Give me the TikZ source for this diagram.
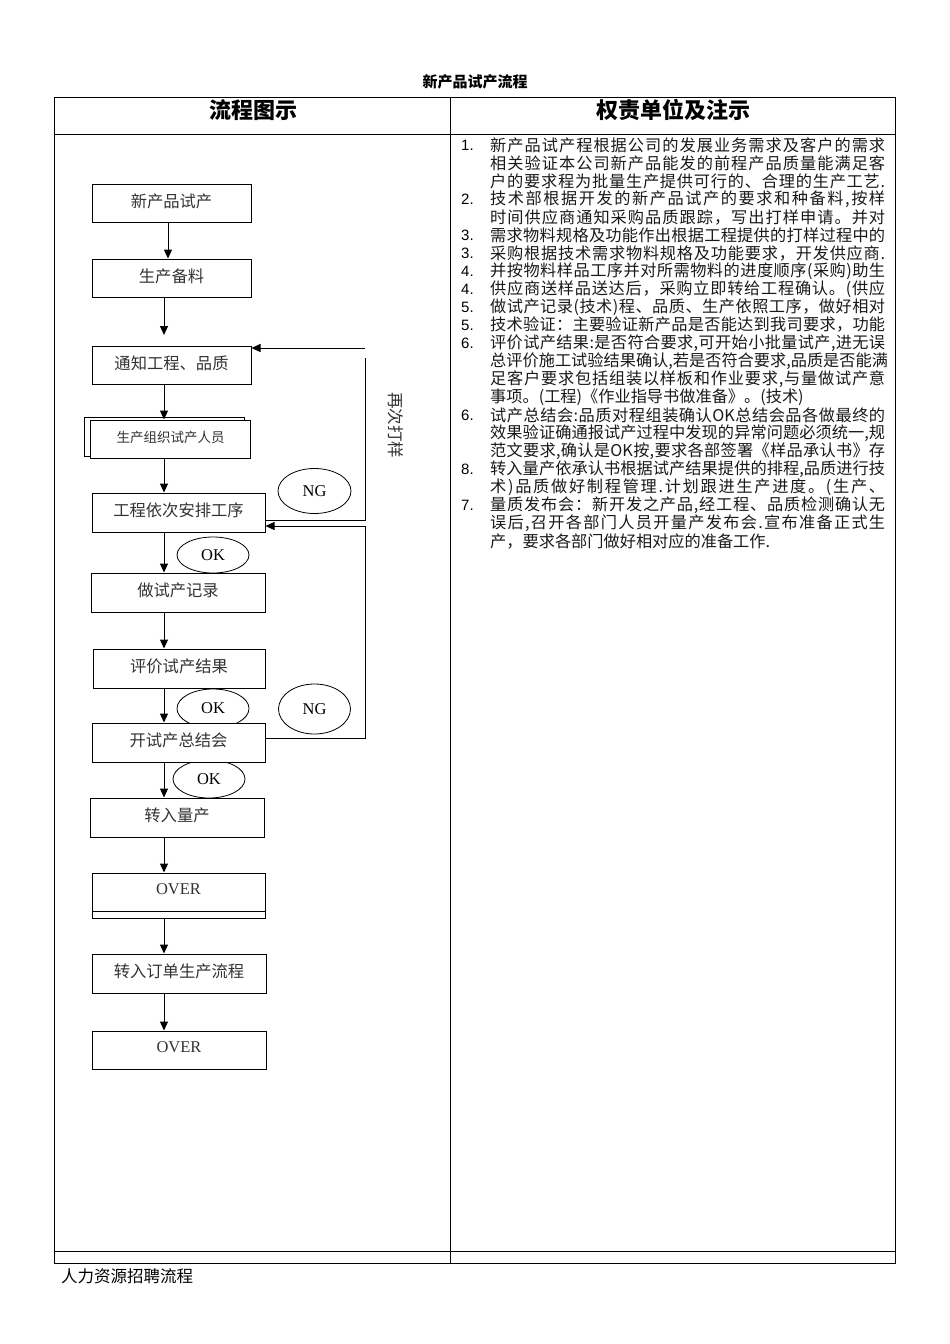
\documentclass[tikz,border=0pt]{standalone}
\usepackage{fontspec}
\setmainfont{Liberation Serif}
\newfontfamily\cjk{Noto Sans CJK SC}
\newfontfamily\lat{Liberation Serif}
\newfontfamily\numf{Liberation Sans}
\usetikzlibrary{arrows.meta,calc,shapes.geometric}
\ExplSyntaxOn
\NewDocumentCommand\jline{m}{\hbox to 395pt{\tl_map_inline:nn{#1}{##1\hfil}\unskip}}
\ExplSyntaxOff
\newcommand\jl[2]{\node[rtext] at (490,#1) {\jline{#2}};}
\newcommand\nl[2]{\node[rtext] at (490,#1) {#2};}
\newcommand\numl[2]{\node[numtext] at (461,#1) {#2};}
\begin{document}
\begin{tikzpicture}[x=1pt,y=-1pt,
  box/.style={draw,line width=1pt,fill=white,inner sep=0pt,text depth=5pt,font=\cjk\fontsize{16.3}{18}\selectfont,text=black!80},
  ell/.style={draw,ellipse,line width=0.8pt,fill=white,inner sep=0pt,font=\lat\fontsize{16.5}{18}\selectfont},
  arr/.style={line width=1pt,-{Triangle[length=9pt,width=8pt]}},
  lp/.style={line width=0.8pt},
  rtext/.style={anchor=west,inner sep=0pt,font=\cjk\fontsize{16.2}{18}\selectfont,text=black!90},
  numtext/.style={anchor=west,inner sep=0pt,font=\numf\fontsize{15}{18}\selectfont},
  tbl/.style={line width=0.9pt}]
\useasboundingbox (0,0) rectangle (950,1344);
% title and table
\node[font=\cjk\bfseries\fontsize{15}{18}\selectfont] (title) at (475,82) {新产品试产流程};
\draw[tbl] (54,97) rectangle (895,1263);
\draw[tbl] (54,134) -- (895,134);
\draw[tbl] (54,1251) -- (895,1251);
\draw[tbl] (450,97) -- (450,1263);
\node[font=\cjk\bfseries\fontsize{22}{24}\selectfont] (h1) at (253,110) {流程图示};
\node[font=\cjk\bfseries\fontsize{22}{24}\selectfont] (h2) at (673,110) {权责单位及注示};
\node[anchor=west,inner sep=0pt,font=\cjk\fontsize{16.5}{18}\selectfont] (foot) at (61,1276) {人力资源招聘流程};
% ellipses
\node[ell,minimum width=73,minimum height=45] (ng1) at (314.5,491) {NG};
\node[ell,minimum width=72,minimum height=36] (ok1) at (213,555) {OK};
\node[ell,minimum width=72,minimum height=39] (ok2) at (213,708.5) {OK};
\node[ell,minimum width=72,minimum height=50] (ng2) at (314.5,709) {NG};
\node[ell,minimum width=72,minimum height=38] (ok3) at (209,779) {OK};
% boxes
\node[box,minimum width=159,minimum height=38] (b1) at (171.5,203) {新产品试产};
\node[box,minimum width=159,minimum height=38] (b2) at (171.5,278) {生产备料};
\node[box,minimum width=159,minimum height=38] (b3) at (171.5,365) {通知工程、品质};
\node[box,minimum width=160,minimum height=39] (b4b) at (164,436.5) {};
\node[box,minimum width=160,minimum height=38,font=\cjk\fontsize{13.5}{16}\selectfont] (b4) at (170.5,439) {生产组织试产人员};
\node[box,minimum width=173,minimum height=39] (b5) at (178.5,512.5) {工程依次安排工序};
\node[box,minimum width=174,minimum height=39] (b6) at (178,592.5) {做试产记录};
\node[box,minimum width=172,minimum height=39] (b7) at (179,668.5) {评价试产结果};
\node[box,minimum width=173,minimum height=39] (b8) at (178.5,742.5) {开试产总结会};
\node[box,minimum width=174,minimum height=39] (b9) at (177,817.5) {转入量产};
\node[box,minimum width=173,minimum height=45] (b10b) at (178.5,895.5) {};
\node[box,minimum width=173,minimum height=38,font=\lat\fontsize{16.5}{18}\selectfont] (b10) at (178.5,892) {OVER};
\node[box,minimum width=174,minimum height=39] (b11) at (179,973.5) {转入订单生产流程};
\node[box,minimum width=174,minimum height=38,font=\lat\fontsize{16.5}{18}\selectfont] (b12) at (179,1050) {OVER};
% arrows
\coordinate (ax) at (164,0);
\coordinate (ax1) at (168,0);
\coordinate (gap) at (164,335);
\draw[arr] (b1.south -| ax1) -- (b2.north -| ax1);
\draw[arr] (b2.south -| ax) -- (gap);
\draw[arr] (b3.south -| ax) -- (b4.north -| ax);
\draw[arr] (b4.south -| ax) -- (b5.north -| ax);
\draw[arr] (b5.south -| ax) -- (b6.north -| ax);
\draw[arr] (b6.south -| ax) -- (b7.north -| ax);
\draw[arr] (b7.south -| ax) -- (b8.north -| ax);
\draw[arr] (b8.south -| ax) -- (b9.north -| ax);
\draw[arr] (b9.south -| ax) -- (b10.north -| ax);
\draw[arr] (b10b.south -| ax) -- (b11.north -| ax);
\draw[arr] (b11.south -| ax) -- (b12.north -| ax);
% loops
\coordinate (rtop) at (365,358);
\coordinate (rtop2) at (365,348);
\coordinate (rlow) at (365,526);
\draw[lp] ($(b5.east)+(0,7.5)$) -| (rtop);
\draw[lp,-{Triangle[length=9pt,width=8pt]}] (rtop2) -- ($(b3.east)+(0,-17)$);
\draw[lp,-{Triangle[length=9pt,width=8pt]}] ($(b8.east)+(0,-4)$) -| (rlow) -- ($(b5.east)+(0,13.5)$);
\node[rotate=-90,font=\cjk\fontsize{16.5}{18}\selectfont,text=black!80] (again) at (396,425) {再次打样};
% right column
\numl{145}{1.}
\jl{145}{新产品试产程根据公司的发展业务需求及客户的需求}
\jl{163}{相关验证本公司新产品能发的前程产品质量能满足客}
\jl{181}{户的要求程为批量生产提供可行的、合理的生产工艺.}
\numl{199}{2.}
\jl{199}{技术部根据开发的新产品试产的要求和种备料,按样}
\jl{217}{时间供应商通知采购品质跟踪，写出打样申请。并对}
\numl{235}{3.}
\jl{235}{需求物料规格及功能作出根据工程提供的打样过程中的}
\numl{253}{3.}
\jl{253}{采购根据技术需求物料规格及功能要求，开发供应商.}
\numl{271}{4.}
\jl{271}{并按物料样品工序并对所需物料的进度顺序(采购)助生}
\numl{289}{4.}
\jl{289}{供应商送样品送达后，采购立即转给工程确认。(供应}
\numl{307}{5.}
\jl{307}{做试产记录(技术)程、品质、生产依照工序，做好相对}
\numl{325}{5.}
\jl{325}{技术验证：主要验证新产品是否能达到我司要求，功能}
\numl{343}{6.}
\jl{343}{评价试产结果:是否符合要求,可开始小批量试产,进无误}
\jl{361}{总评价施工试验结果确认,若是否符合要求,品质是否能满}
\jl{379}{足客户要求包括组装以样板和作业要求,与量做试产意}
\nl{397}{事项。(工程)《作业指导书做准备》。(技术)}
\numl{415}{6.}
\jl{415}{试产总结会:品质对程组装确认{OK}总结会品各做最终的}
\jl{433}{效果验证确通报试产过程中发现的异常问题必须统一,规}
\jl{451}{范文要求,确认是{OK}按,要求各部签署《样品承认书》存}
\numl{469}{8.}
\jl{469}{转入量产依承认书根据试产结果提供的排程,品质进行技}
\jl{487}{术)品质做好制程管理.计划跟进生产进度。(生产、}
\numl{505}{7.}
\jl{505}{量质发布会：新开发之产品,经工程、品质检测确认无}
\jl{523}{误后,召开各部门人员开量产发布会.宣布准备正式生}
\nl{541}{产，要求各部门做好相对应的准备工作.}
\end{tikzpicture}
\end{document}
